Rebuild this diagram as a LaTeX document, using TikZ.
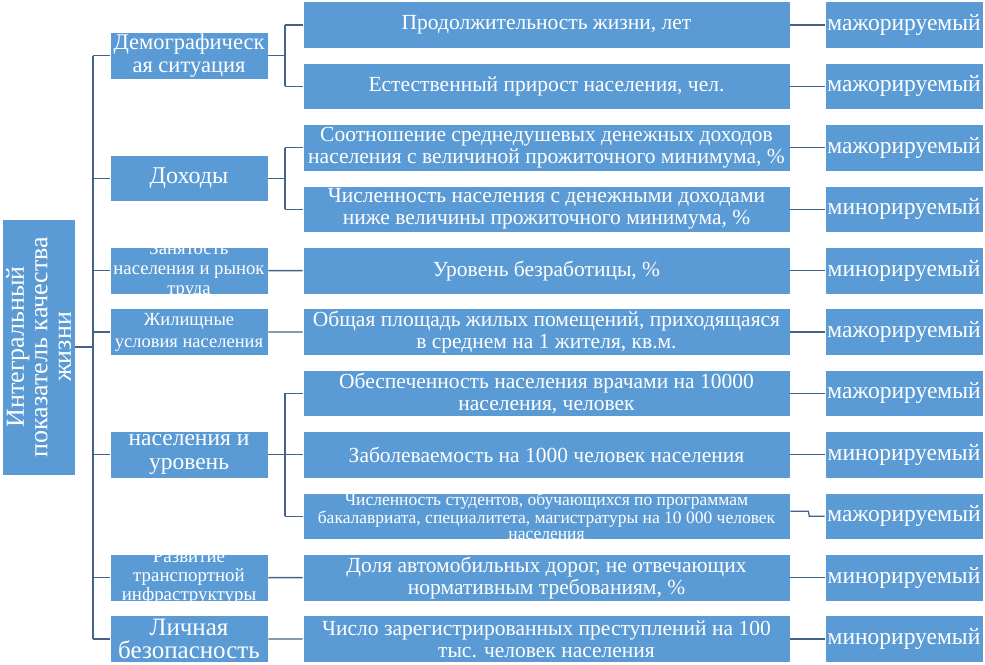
\documentclass[tikz,border=0pt]{standalone}
\usepackage{fontspec}
\setmainfont{Liberation Serif}
\definecolor{boxblue}{RGB}{91,155,213}
\definecolor{linec}{RGB}{68,98,135}
\begin{document}
\begin{tikzpicture}[x=1pt,y=-1pt,
  box/.style={fill=boxblue,draw=white,line width=0.6pt,inner sep=0pt,text=white,align=center},
  ind/.style={box,minimum width=487pt,minimum height=46.5pt,font=\fontsize{21.5}{22}\selectfont},
  res/.style={box,minimum width=158pt,minimum height=46.5pt,font=\fontsize{23.5}{24}\selectfont},
  cat/.style={box,minimum width=158pt,minimum height=46.5pt},
  cattext/.style={text=white,align=center,inner sep=0pt},
  conn/.style={draw=linec,line width=1.3pt}]
\useasboundingbox (0,0) rectangle (985,664);
% left box
\node[box,minimum width=73pt,minimum height=256pt] (L) at (38.5,347) {};
\node[cattext,rotate=90,font=\fontsize{26}{23.5}\selectfont] (Lt) at (L) {Интегральный\\показатель качества\\жизни};
% indicator rows
\foreach \i/\t in {
 1/{Продолжительность жизни, лет},
 2/{Естественный прирост населения, чел.},
 3/{Соотношение среднедушевых денежных доходов\\населения с величиной прожиточного минимума, \%},
 4/{Численность населения с денежными доходами\\ниже величины прожиточного минимума, \%},
 5/{Уровень безработицы, \%},
 6/{Общая площадь жилых помещений, приходящаяся\\в среднем на 1 жителя, кв.м.},
 7/{Обеспеченность населения врачами на 10000\\населения, человек},
 8/{Заболеваемость на 1000 человек населения},
 10/{Доля автомобильных дорог, не отвечающих\\нормативным требованиям, \%},
 11/{Число зарегистрированных преступлений на 100\\тыс. человек населения}}
 { \node[ind] (i\i) at (546.5,{25+61.4*(\i-1)}) {\t}; }
\node[ind,font=\fontsize{17.5}{16}\selectfont] (i9) at (546.5,516.2) {Численность студентов, обучающихся по программам\\бакалавриата, специалитета, магистратуры на 10 000 человек\\населения};
% result boxes
\foreach \i/\t in {1/мажорируемый,2/мажорируемый,3/мажорируемый,4/минорируемый,5/минорируемый,6/мажорируемый,7/мажорируемый,8/минорируемый,9/мажорируемый,10/минорируемый,11/минорируемый}
 { \node[res] (r\i) at (904,{25+61.4*(\i-1)}) {\t}; }
% categories
\node[cat] (c1) at (189,55.7) {};
\node[cattext,font=\fontsize{22.5}{23}\selectfont] at (c1) {Демографическ\\ая ситуация};
\node[cat] (c2) at (189,178.5) {};
\node[cattext,font=\fontsize{24}{24}\selectfont] at (c2) {Доходы};
\node[cat] (c3) at (189,270.6) {};
\begin{scope}\clip (c3.north west) rectangle (c3.south east);
\node[cattext,font=\fontsize{18.7}{20}\selectfont] at (c3) {Занятость\\населения и рынок\\труда};
\end{scope}
\node[cat] (c4) at (189,332) {};
\node[cattext,font=\fontsize{18.5}{22}\selectfont] at (c4) {Жилищные\\условия населения};
\node[cat] (c5) at (189,454.8) {};
\node[cattext,font=\fontsize{23.5}{24}\selectfont] at (c5) {населения и\\уровень};
\node[cat] (c6) at (189,577.6) {};
\begin{scope}\clip (c6.north west) rectangle (c6.south east);
\node[cattext,font=\fontsize{18.9}{19}\selectfont] at (c6) {Развитие\\транспортной\\инфраструктуры};
\end{scope}
\node[cat] (c7) at (189,639) {};
\node[cattext,font=\fontsize{25}{23}\selectfont] at (c7) {Личная\\безопасность};
% connectors: left box to categories
\coordinate (T) at (93,0);
\coordinate (B) at (285,0);
\draw[conn] (L.east) -- (L.east -| T);
\draw[conn] (c1.west -| T) -- (c7.west -| T);
\foreach \c in {c1,c2,c3,c4,c5,c6,c7} { \draw[conn] (\c.west -| T) -- (\c.west); }
% categories to indicators
\draw[conn] (c1.east) -- (c1.east -| B);
\draw[conn] (i1.west -| B) -- (i2.west -| B);
\draw[conn] (i1.west -| B) -- (i1.west);
\draw[conn] (i2.west -| B) -- (i2.west);
\draw[conn] (c2.east) -- (c2.east -| B);
\draw[conn] (i3.west -| B) -- (i4.west -| B);
\draw[conn] (i3.west -| B) -- (i3.west);
\draw[conn] (i4.west -| B) -- (i4.west);
\draw[conn] (c3.east) -- (i5.west);
\draw[conn] (c4.east) -- (i6.west);
\draw[conn] (c5.east) -- (c5.east -| B);
\draw[conn] (i7.west -| B) -- (i9.west -| B);
\foreach \i in {7,8,9} { \draw[conn] (i\i.west -| B) -- (i\i.west); }
\draw[conn] (c6.east) -- (i10.west);
\draw[conn] (c7.east) -- (i11.west);
% indicators to results
\foreach \i in {1,2,3,4,5,6,7,8,10,11} { \draw[conn] (i\i.east) -- (r\i.west); }
\draw[conn] ([yshift=5pt]i9.east) -- ++(18,0) -- ++(1,5) -- (r9.west);
\end{tikzpicture}
\end{document}
